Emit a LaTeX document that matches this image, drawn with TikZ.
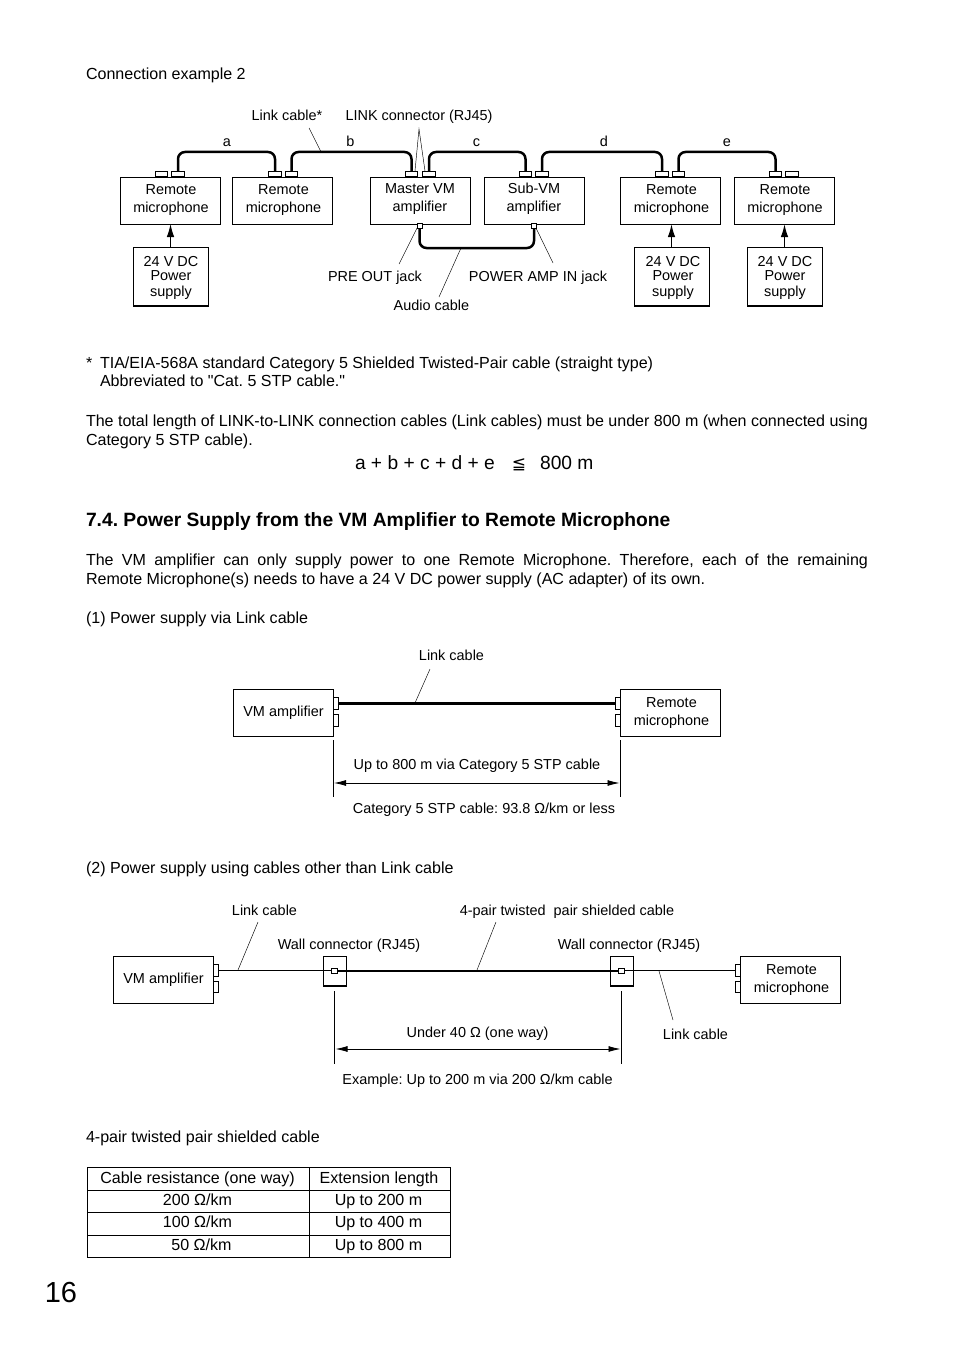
\documentclass[tikz,border=0pt]{standalone}
\usepackage{fontspec}
\setmainfont{Liberation Sans}[Ligatures=TeXOff]
\newfontfamily\symfont{DejaVu Sans}
\usetikzlibrary{arrows.meta}
\tikzset{
 x=1pt,y=-1pt,
 lab/.style={inner sep=0pt,outer sep=0pt,font=\fontsize{14.45}{16}\selectfont,text height=10pt,text depth=0pt},
 body/.style={inner sep=0pt,outer sep=0pt,anchor=west,font=\fontsize{16.05}{18}\selectfont,text height=13pt,text depth=0pt},
 box/.style={draw,line width=0.9pt,inner sep=0pt,outer sep=0pt,minimum width=100pt,minimum height=47pt},
 psbox/.style={draw,line width=1pt,inner sep=0pt,outer sep=0pt,minimum width=75pt,minimum height=59pt},
 port/.style={draw,line width=0.8pt,fill=white,inner sep=0pt,outer sep=0pt,minimum width=12.5pt,minimum height=5.5pt},
 sport/.style={draw,line width=0.8pt,fill=white,inner sep=0pt,outer sep=0pt,minimum width=5pt,minimum height=11.5pt},
 jack/.style={draw,line width=0.7pt,fill=white,inner sep=0pt,outer sep=0pt,minimum width=5pt,minimum height=4.5pt},
 wall/.style={draw,line width=0.9pt,inner sep=0pt,outer sep=0pt,minimum width=23pt,minimum height=30pt},
 wallport/.style={draw,line width=0.8pt,fill=white,inner sep=0pt,outer sep=0pt,minimum width=6pt,minimum height=5pt},
 cable/.style={line width=2.5pt,rounded corners=7pt},
 thin cable/.style={line width=1pt},
 leader/.style={line width=0.45pt},
 extline/.style={line width=0.8pt},
 feed/.style={line width=1.4pt,-{Latex[length=13pt,width=7.5pt]}},
 dim/.style={line width=0.8pt,{Latex[length=12pt,width=6pt]}-{Latex[length=12pt,width=6pt]}},
 rule/.style={line width=1pt},
}
\newcommand{\om}{Ω}
\begin{document}
\frenchspacing
\begin{tikzpicture}
\useasboundingbox (0,0) rectangle (954,1351);
\fill[white] (0,0) rectangle (954,1351);
% ---------- body text
\node[body] (t1) at (86,73) {Connection example 2};
\node[body] (t2) at (86,362) {*};
\node[body] (t3) at (100,362) {TIA/EIA-568A standard Category 5 Shielded Twisted-Pair cable (straight type)};
\node[body] (t4) at (100,380) {Abbreviated to "Cat. 5 STP cable."};
\node[body] (t5) at (86,420) {\makebox[782pt][s]{The total length of LINK-to-LINK connection cables (Link cables) must be under 800 m (when connected using}};
\node[body] (t6) at (86,439) {Category 5 STP cable).};
\node[body,font=\fontsize{19.2}{20}\selectfont] (t7) at (355,463) {a + b + c + d + e\hspace{17pt}{\symfont\fontsize{17}{18}\selectfont ≦}\hspace{14pt}800 m};
\node[body,font=\bfseries\fontsize{19.26}{20}\selectfont,text height=14pt] (t8) at (86,519) {7.4. Power Supply from the VM Amplifier to Remote Microphone};
\node[body] (t9) at (86,559) {\makebox[782pt][s]{The VM amplifier can only supply power to one Remote Microphone. Therefore, each of the remaining}};
\node[body] (t10) at (86,578) {Remote Microphone(s) needs to have a 24 V DC power supply (AC adapter) of its own.};
\node[body] (t11) at (86,617) {(1) Power supply via Link cable};
\node[body] (t12) at (86,867) {(2) Power supply using cables other than Link cable};
\node[body] (t13) at (86,1136) {4-pair twisted pair shielded cable};
\node[inner sep=0pt,font=\fontsize{29}{32}\selectfont,text height=21pt,text depth=0pt] (pg) at (61,1292) {16};
% ---------- diagram 1
\coordinate (top) at (0,152);
\coordinate (bot) at (0,248);
\node[box] (rm1) at (170.5,200.5) {};
\node[box] (rm2) at (282.5,200.5) {};
\node[box] (mas) at (420.5,200.5) {};
\node[box] (sub) at (534.5,200.5) {};
\node[box] (rm3) at (670.5,200.5) {};
\node[box] (rm4) at (784.5,200.5) {};
\node[lab] (l1a) at (171,189) {Remote}; \node[lab] (l1b) at (171,207) {microphone};
\node[lab] (l2a) at (283.5,189) {Remote}; \node[lab] (l2b) at (283.5,207) {microphone};
\node[lab] (l3a) at (420,188.5) {Master VM}; \node[lab] (l3b) at (420,206.5) {amplifier};
\node[lab] (l4a) at (534,188.5) {Sub-VM}; \node[lab] (l4b) at (534,206.5) {amplifier};
\node[lab] (l5a) at (671.5,189) {Remote}; \node[lab] (l5b) at (671.5,207) {microphone};
\node[lab] (l6a) at (785,189) {Remote}; \node[lab] (l6b) at (785,207) {microphone};
\foreach \n/\x in {p1a/161.5,p1b/178,p2a/275,p2b/291.5,p3a/411.5,p3b/429,p4a/525.5,p4b/542,p5a/662,p5b/678.5,p6a/775.5,p6b/792}
  \node[port] (\n) at (\x,174) {};
\node[jack] (jk1) at (419.5,226) {};
\node[jack] (jk2) at (534,226) {};
\draw[cable] (p1b.north) -- (p1b.north |- top) -- (p2a.north |- top) -- (p2a.north);
\draw[cable] (p2b.north) -- (p2b.north |- top) -- (p3a.north |- top) -- (p3a.north);
\draw[cable] (p3b.north) -- (p3b.north |- top) -- (p4a.north |- top) -- (p4a.north);
\draw[cable] (p4b.north) -- (p4b.north |- top) -- (p5a.north |- top) -- (p5a.north);
\draw[cable] (p5b.north) -- (p5b.north |- top) -- (p6a.north |- top) -- (p6a.north);
\draw[cable] (jk1.south) -- (jk1.south |- bot) -- (jk2.south |- bot) -- (jk2.south);
\node[psbox] (ps1) at (170.5,276.5) {};
\node[psbox] (ps3) at (671.5,276.5) {};
\node[psbox] (ps4) at (784.5,276.5) {};
\draw[line width=1.6pt] (ps1.south west) -- (ps1.south east);
\draw[line width=1.6pt] (ps3.south west) -- (ps3.south east);
\draw[line width=1.6pt] (ps4.south west) -- (ps4.south east);
\foreach \n/\x in {a/171,c/673,d/785}{
  \node[lab] (s\n1) at (\x,261) {24 V DC};
  \node[lab] (s\n2) at (\x,275) {Power};
  \node[lab] (s\n3) at (\x,291) {supply};
}
\draw[feed,line width=1pt] (ps1.north) -- (ps1.north |- rm1.south);
\draw[feed] (ps3.north) -- (ps3.north |- rm3.south);
\draw[feed] (ps4.north) -- (ps4.north |- rm4.south);
\node[lab] (la) at (227,142) {a};
\node[lab] (lb) at (350.5,142) {b};
\node[lab] (lc) at (476.5,142) {c};
\node[lab] (ld) at (604,142) {d};
\node[lab] (le) at (727,142) {e};
\node[lab] (lk) at (287,115.5) {Link cable*};
\node[lab] (rj) at (419,115.5) {LINK connector (RJ45)};
\node[lab] (po) at (375,276) {PRE OUT jack};
\node[lab] (pa) at (538,276) {POWER AMP IN jack};
\node[lab] (au) at (431.5,305) {Audio cable};
\coordinate (c1) at (309,128); \coordinate (c2) at (321,152);
\coordinate (c3) at (419,129); \coordinate (c4) at (415,171); \coordinate (c5) at (425,171);
\coordinate (c6) at (417,228); \coordinate (c7) at (399,264);
\coordinate (c8) at (461,248); \coordinate (c9) at (439,297);
\coordinate (c10) at (536,228); \coordinate (c11) at (553,263);
\draw[leader] (c1) -- (c2);
\draw[leader] (c4) -- (c3) -- (c5);
\draw[leader] (c6) -- (c7);
\draw[leader] (c8) -- (c9);
\draw[leader] (c10) -- (c11);
% ---------- diagram 2
\node[box] (vm2) at (283,712.5) {};
\node[box] (rm7) at (670.5,712.5) {};
\node[lab] (v2) at (283.5,711) {VM amplifier};
\node[lab] (r7a) at (671.5,702) {Remote}; \node[lab] (r7b) at (671.5,720) {microphone};
\node[sport] (q1) at (335.5,703.5) {};
\node[sport] (q2) at (335.5,720.5) {};
\node[sport] (q3) at (617.5,703.5) {};
\node[sport] (q4) at (617.5,720.5) {};
\draw[line width=2.4pt] (q1.east) -- (q3.west);
\coordinate (d1) at (430,669); \coordinate (d2) at (415,703);
\draw[leader] (d1) -- (d2);
\node[lab] (lk2) at (451.5,655) {Link cable};
\coordinate (e1) at (333.5,740); \coordinate (e2) at (333.5,797);
\coordinate (e3) at (620,740); \coordinate (e4) at (620,797);
\coordinate (e5) at (334,783); \coordinate (e6) at (619.5,783);
\draw[extline] (e1) -- (e2);
\draw[extline] (e3) -- (e4);
\draw[dim] (e5) -- (e6);
\node[lab] (u8) at (477,764) {Up to 800 m via Category 5 STP cable};
\node[lab] (c5t) at (484,808) {Category 5 STP cable: 93.8 \om/km or less};
% ---------- diagram 3
\node[box] (vm3) at (163,979.5) {};
\node[box] (rm8) at (790.5,979.5) {};
\node[lab] (v3) at (163.5,978) {VM amplifier};
\node[lab] (r8a) at (791.5,969) {Remote}; \node[lab] (r8b) at (791.5,987) {microphone};
\node[sport] (w1) at (215.5,970.5) {};
\node[sport] (w2) at (215.5,987) {};
\node[sport] (w3) at (737.5,970.5) {};
\node[sport] (w4) at (737.5,987) {};
\node[wall] (wa) at (334.5,971) {};
\node[wall] (wb) at (621.5,971) {};
\draw[line width=1.6pt] (wa.south west) -- (wa.south east);
\draw[line width=1.6pt] (wb.south west) -- (wb.south east);
\node[wallport] (wap) at (334.5,971) {};
\node[wallport] (wbp) at (621.5,971) {};
\draw[thin cable] (w1.east) -- (w1.east -| wap.west);
\draw[line width=2.2pt] (wap.east) -- (wbp.west);
\draw[thin cable] (w3.west) -- (w3.west -| wbp.east);
\coordinate (f1) at (258,922); \coordinate (f2) at (238,970);
\coordinate (f3) at (496,922); \coordinate (f4) at (477,970);
\coordinate (f5) at (659,971); \coordinate (f6) at (673,1020);
\draw[leader] (f1) -- (f2);
\draw[leader] (f3) -- (f4);
\draw[leader] (f5) -- (f6);
\node[lab] (g1) at (264.5,910) {Link cable};
\node[lab] (g2) at (349,944) {Wall connector (RJ45)};
\node[lab] (g3) at (567,910) {4-pair twisted\hspace{4pt} pair shielded cable};
\node[lab] (g4) at (629,944) {Wall connector (RJ45)};
\node[lab] (g5) at (695.5,1034) {Link cable};
\node[lab] (g6) at (477.5,1032) {Under 40 \om{} (one way)};
\node[lab] (g7) at (477.5,1079) {Example: Up to 200 m via 200 \om/km cable};
\coordinate (h1) at (334.5,991); \coordinate (h2) at (334.5,1064);
\coordinate (h3) at (621,991); \coordinate (h4) at (621,1064);
\coordinate (h5) at (335.5,1049); \coordinate (h6) at (620.5,1049);
\draw[extline] (h1) -- (h2);
\draw[extline] (h3) -- (h4);
\draw[dim] (h5) -- (h6);
% ---------- table
\coordinate (ta) at (87,1167); \coordinate (tb) at (450.5,1257);
\coordinate (tc) at (309,1167); \coordinate (td) at (309,1257);
\coordinate (r1) at (87,1190); \coordinate (r1e) at (450.5,1190);
\coordinate (r2) at (87,1212.5); \coordinate (r2e) at (450.5,1212.5);
\coordinate (r3) at (87,1235); \coordinate (r3e) at (450.5,1235);
\draw[rule] (ta) rectangle (tb);
\draw[rule] (tc) -- (td);
\draw[rule] (r1) -- (r1e);
\draw[rule] (r2) -- (r2e);
\draw[rule] (r3) -- (r3e);
\tikzset{tcell/.style={lab,font=\fontsize{16.05}{18}\selectfont,text height=11pt}}
\node[tcell] (a1) at (197.5,1178) {Cable resistance (one way)};
\node[tcell] (a2) at (379,1178) {Extension length};
\node[tcell] (b1) at (197.5,1200) {200 \om/km};
\node[tcell] (b2) at (378.5,1200) {Up to 200 m};
\node[tcell] (c1t) at (197.5,1222) {100 \om/km};
\node[tcell] (c2t) at (378.5,1222) {Up to 400 m};
\node[tcell] (d1t) at (201.5,1245) {50 \om/km};
\node[tcell] (d2t) at (378.5,1245) {Up to 800 m};
\end{tikzpicture}
\end{document}
